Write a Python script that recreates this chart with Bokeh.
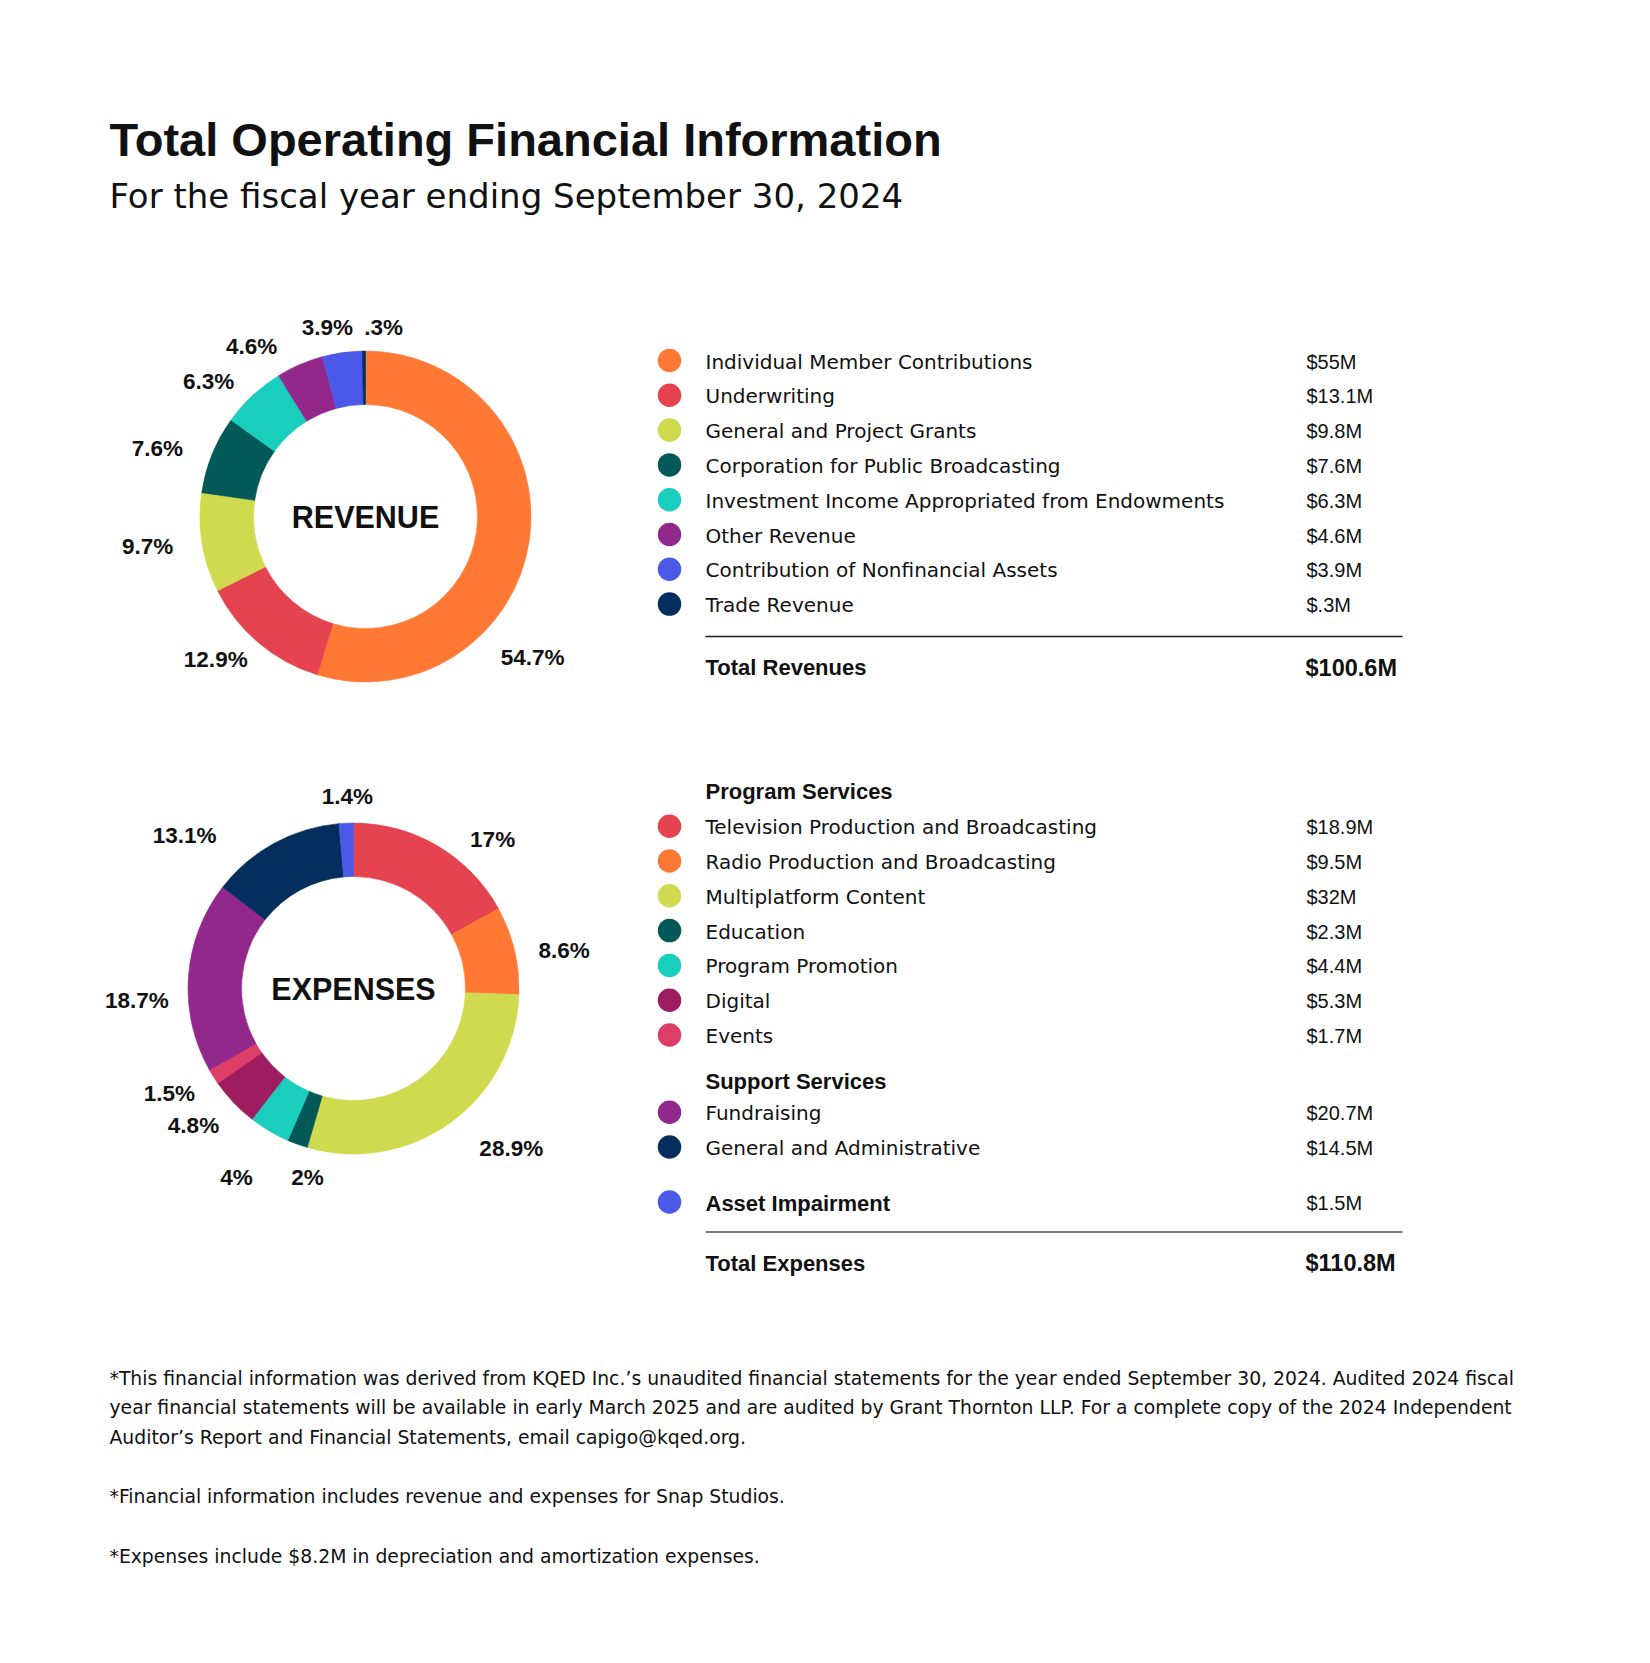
import math
from bokeh.plotting import figure
from bokeh.models import Range1d, ColumnDataSource
from bokeh.core.properties import value
from bokeh.embed import file_html
from bokeh.resources import INLINE

# ---------------- data ----------------
title_text = "Total Operating Financial Information"
subtitle_text = "For the fiscal year ending September 30, 2024"

rev_center_label = "REVENUE"
rev_categories = [
    "Individual Member Contributions",
    "Underwriting",
    "General and Project Grants",
    "Corporation for Public Broadcasting",
    "Investment Income Appropriated from Endowments",
    "Other Revenue",
    "Contribution of Nonfinancial Assets",
    "Trade Revenue",
]
rev_amount_labels = ["$55M", "$13.1M", "$9.8M", "$7.6M", "$6.3M", "$4.6M", "$3.9M", "$.3M"]
rev_shares = [54.7, 12.9, 9.7, 7.6, 6.3, 4.6, 3.9, 0.3]
rev_share_labels = ["54.7%", "12.9%", "9.7%", "7.6%", "6.3%", "4.6%", "3.9%", ".3%"]
rev_colors = ["#FF7935", "#E4434F", "#D0DA4F", "#035957", "#19CEBD", "#92278C", "#4B59E8", "#032E5D"]
rev_total_label = "Total Revenues"
rev_total_amount = "$100.6M"

exp_center_label = "EXPENSES"
exp_categories = [
    "Television Production and Broadcasting",
    "Radio Production and Broadcasting",
    "Multiplatform Content",
    "Education",
    "Program Promotion",
    "Digital",
    "Events",
    "Fundraising",
    "General and Administrative",
    "Asset Impairment",
]
exp_groups = ["Program Services"] * 7 + ["Support Services"] * 2 + [None]
exp_amount_labels = ["$18.9M", "$9.5M", "$32M", "$2.3M", "$4.4M", "$5.3M", "$1.7M",
                     "$20.7M", "$14.5M", "$1.5M"]
exp_shares = [17, 8.6, 28.9, 2, 4, 4.8, 1.5, 18.7, 13.1, 1.4]
exp_share_labels = ["17%", "8.6%", "28.9%", "2%", "4%", "4.8%", "1.5%", "18.7%", "13.1%", "1.4%"]
exp_colors = ["#E4434F", "#FF7935", "#D0DA4F", "#035957", "#19CEBD", "#9D1D60", "#DE3D66",
              "#92278C", "#032E5D", "#4B59E8"]
exp_total_label = "Total Expenses"
exp_total_amount = "$110.8M"

footnotes = [
    [
        "*This financial information was derived from KQED Inc.\u2019s unaudited financial statements for the year ended September 30, 2024. Audited 2024 fiscal",
        "year financial statements will be available in early March 2025 and are audited by Grant Thornton LLP. For a complete copy of the 2024 Independent",
        "Auditor\u2019s Report and Financial Statements, email capigo@kqed.org.",
    ],
    ["*Financial information includes revenue and expenses for Snap Studios."],
    ["*Expenses include $8.2M in depreciation and amortization expenses."],
]

# ---------------- layout / style ----------------
W, H = 1634, 1647
REG = "DejaVu Sans"
BOLD = "Liberation Sans"
INK = "#111111"

TITLE_Y, SUBTITLE_Y = 139, 195
R_IN, R_OUT = 112, 165.5
REV_C = (365, 516)
EXP_C = (353, 988)
# label placement (angle nudge in degrees, distance from centre in px)
REV_LBL_NUDGE = [31.7, 6.2, 1.3, -3.9, -6.3, -10.4, -3.3, 6.0]
REV_LBL_DIST = [218.6, 207, 220, 218.8, 207, 204.7, 192.8, 189.9]
EXP_LBL_NUDGE = [12.4, 3.1, -8.7, -6.1, 1.2, 3.0, 2.5, -7.3, -19.2, 0.7]
EXP_LBL_DIST = [204, 214, 225, 194.5, 222, 210.6, 212, 217, 228, 192]

DOT_X, LBL_X, VAL_X, RULE_X1 = 669, 705, 1306, 1402
ROW = 34.8
REV_Y0 = 360
REV_RULE_Y, REV_TOTAL_Y = 636, 667
EXP_HDR_Y0 = 790.7
EXP_HDR_TO_ROW = [35, 31]
EXP_GROUP_GAP = 46.2
EXP_SOLO_GAP = 55
EXP_RULE_GAP, EXP_TOTAL_GAP = 30, 31
FOOT_X, FOOT_Y0, FOOT_LINE, FOOT_PARA = 109, 1377.5, 29.5, 30

p = figure(width=W, height=H, x_range=Range1d(0, W), y_range=Range1d(-H, 0),
           output_backend="svg", toolbar_location=None, min_border=0,
           x_axis_location=None, y_axis_location=None)
p.grid.visible = False
p.outline_line_color = None
p.background_fill_color = "white"
p.border_fill_color = "white"


def txt(xs, ys, texts, font, size, style="normal", align="left", baseline="middle", color=INK):
    src = ColumnDataSource(dict(x=list(xs), y=[-v for v in ys], text=list(texts)))
    p.text(x="x", y="y", text="text", source=src, text_font=value(font),
           text_font_size=value(f"{size}px"), text_font_style=style,
           text_align=align, text_baseline=baseline, text_color=color)


def donut(center, shares, colors, share_labels, nudges, dists, center_label):
    cx, cy = center
    total = float(sum(shares))
    cum = 0.0
    starts, ends, lx, ly = [], [], [], []
    for s, nd, dist in zip(shares, nudges, dists):
        f0 = cum / total
        cum += s
        f1 = cum / total
        starts.append(math.pi / 2 - 2 * math.pi * f1)
        ends.append(math.pi / 2 - 2 * math.pi * f0)
        theta = math.radians(360 * (f0 + f1) / 2 + nd)
        lx.append(cx + dist * math.sin(theta))
        ly.append(cy - dist * math.cos(theta))
    n = len(shares)
    src = ColumnDataSource(dict(x=[cx] * n, y=[-cy] * n, start=starts, end=ends, color=colors))
    p.annular_wedge(x="x", y="y", inner_radius=R_IN, outer_radius=R_OUT,
                    inner_radius_units="screen", outer_radius_units="screen",
                    start_angle="start", end_angle="end", fill_color="color",
                    line_color="color", line_width=0.6, source=src)
    txt(lx, ly, share_labels, BOLD, 22.5, style="bold", align="center")
    txt([cx], [cy], [center_label], BOLD, 30.5, style="bold", align="center")


# titles
txt([109], [TITLE_Y], [title_text], BOLD, 47, style="bold")
txt([109], [SUBTITLE_Y], [subtitle_text], REG, 34)

# donuts
donut(REV_C, rev_shares, rev_colors, rev_share_labels, REV_LBL_NUDGE, REV_LBL_DIST, rev_center_label)
donut(EXP_C, exp_shares, exp_colors, exp_share_labels, EXP_LBL_NUDGE, EXP_LBL_DIST, exp_center_label)

# revenue legend
rev_y = [REV_Y0 + i * ROW for i in range(len(rev_categories))]
p.scatter(x=[DOT_X] * len(rev_y), y=[-v for v in rev_y], size=23.5, marker="circle",
          fill_color=rev_colors, line_color=None)
txt([LBL_X] * len(rev_y), [v + 1 for v in rev_y], rev_categories, REG, 20)
txt([VAL_X] * len(rev_y), [v + 1 for v in rev_y], rev_amount_labels, BOLD, 20)
p.segment(x0=[LBL_X], y0=[-REV_RULE_Y], x1=[RULE_X1], y1=[-REV_RULE_Y], line_color="#1a1a1a", line_width=1.4)
txt([LBL_X], [REV_TOTAL_Y], [rev_total_label], BOLD, 22, style="bold")
txt([VAL_X - 1], [REV_TOTAL_Y], [rev_total_amount], BOLD, 23.5, style="bold")

# expenses legend
hdr_txt, hdr_y, row_y = [], [], []
y = EXP_HDR_Y0
prev = "__start__"
gi = 0
for i, g in enumerate(exp_groups):
    if g != prev:
        if g is None:
            y = row_y[-1] + EXP_SOLO_GAP
        else:
            if i > 0:
                y = row_y[-1] + EXP_GROUP_GAP
            hdr_txt.append(g)
            hdr_y.append(y)
            y += EXP_HDR_TO_ROW[gi]
            gi += 1
        prev = g
    else:
        y = row_y[-1] + ROW
    row_y.append(y)

txt([LBL_X] * len(hdr_y), hdr_y, hdr_txt, BOLD, 22, style="bold")
p.scatter(x=[DOT_X] * len(row_y), y=[-v for v in row_y], size=23.5, marker="circle",
          fill_color=exp_colors, line_color=None)
reg_idx = [i for i, g in enumerate(exp_groups) if g is not None]
solo_idx = [i for i, g in enumerate(exp_groups) if g is None]
txt([LBL_X] * len(reg_idx), [row_y[i] + 1 for i in reg_idx], [exp_categories[i] for i in reg_idx], REG, 20)
txt([LBL_X] * len(solo_idx), [row_y[i] + 1 for i in solo_idx], [exp_categories[i] for i in solo_idx], BOLD, 22, style="bold")
txt([VAL_X] * len(row_y), [v + 1 for v in row_y], exp_amount_labels, BOLD, 20)
exp_rule_y = row_y[-1] + EXP_RULE_GAP
p.segment(x0=[LBL_X], y0=[-exp_rule_y], x1=[RULE_X1], y1=[-exp_rule_y], line_color="#7a7a7a", line_width=2)
txt([LBL_X], [exp_rule_y + EXP_TOTAL_GAP], [exp_total_label], BOLD, 22, style="bold")
txt([VAL_X - 1], [exp_rule_y + EXP_TOTAL_GAP], [exp_total_amount], BOLD, 23.5, style="bold")

# footnotes
fy, flines = [], []
y = FOOT_Y0
for para in footnotes:
    for line in para:
        flines.append(line)
        fy.append(y)
        y += FOOT_LINE
    y += FOOT_PARA
txt([FOOT_X] * len(flines), fy, flines, REG, 18.8)

open("out.html", "w").write(file_html(p, INLINE))
